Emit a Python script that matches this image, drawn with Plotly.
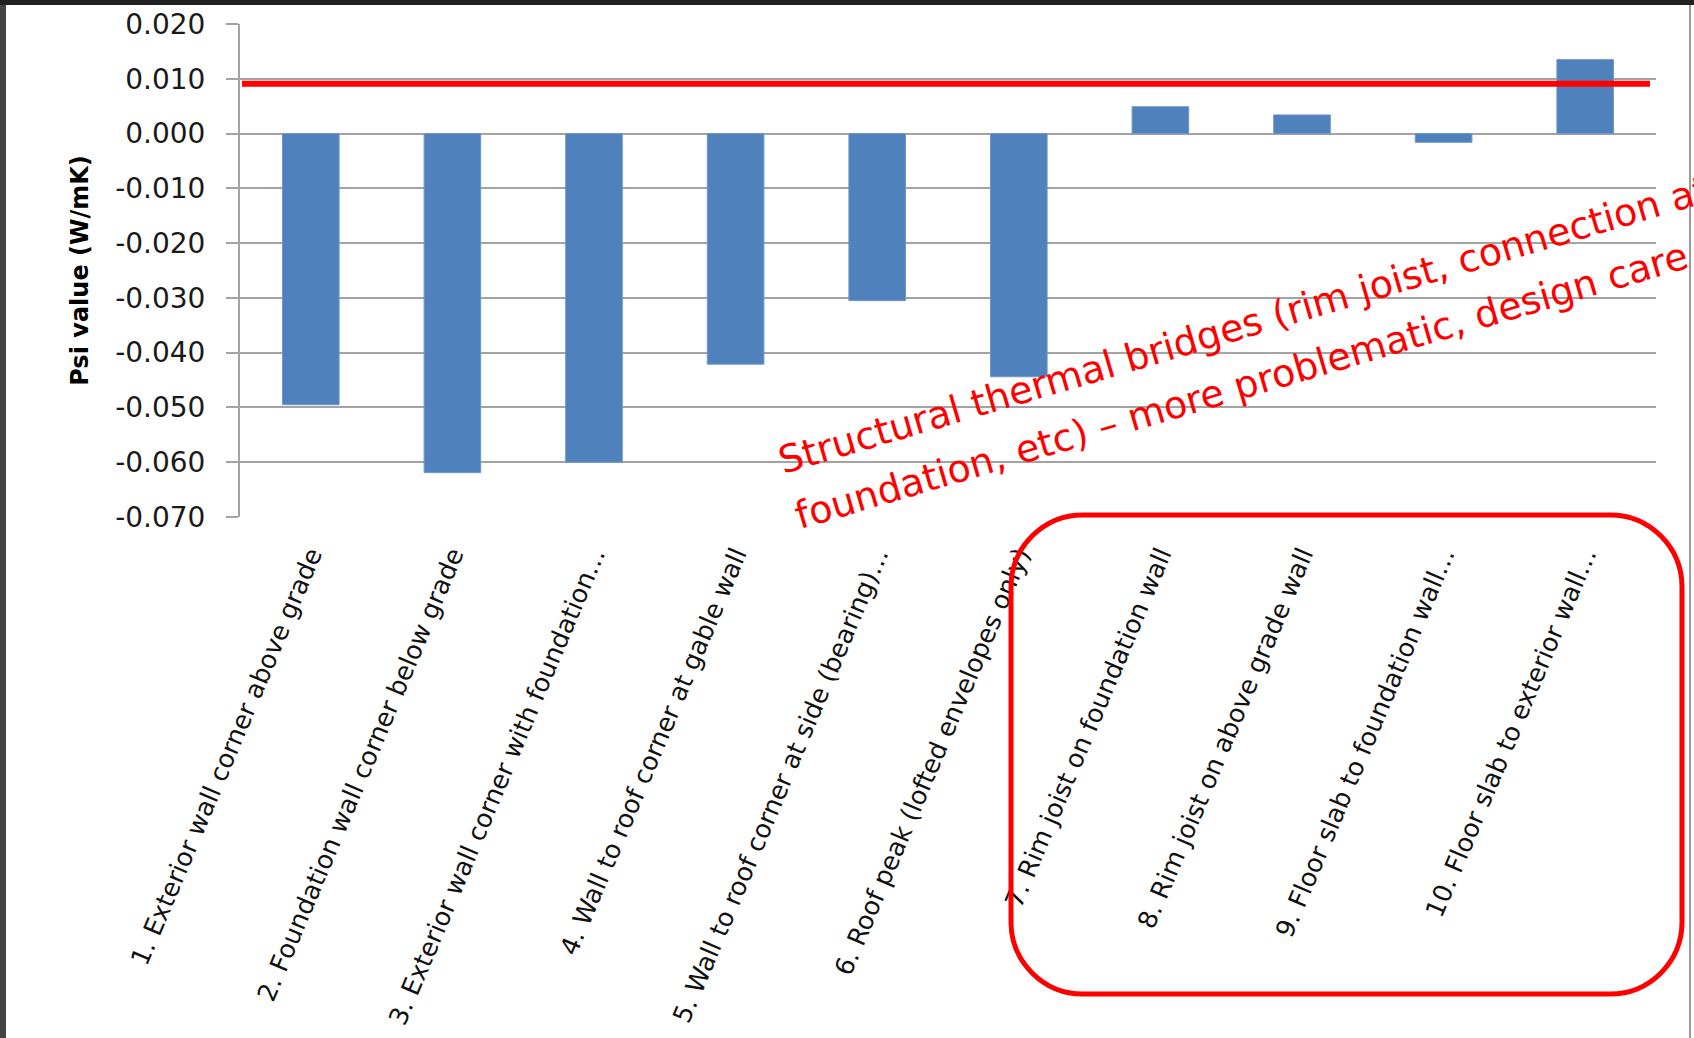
import plotly.graph_objects as go

# ---------------- data ----------------
categories = [
    "1. Exterior wall corner above grade",
    "2. Foundation wall corner below grade",
    "3. Exterior wall corner with foundation…",
    "4. Wall to roof corner at gable wall",
    "5. Wall to roof corner at side (bearing)…",
    "6. Roof peak (lofted envelopes only)",
    "7. Rim joist on foundation wall",
    "8. Rim joist on above grade wall",
    "9. Floor slab to foundation wall…",
    "10. Floor slab to exterior wall…",
]
psi_values = [-0.0495, -0.0619, -0.0600, -0.0421, -0.0305, -0.0444, 0.0049, 0.0034, -0.0016, 0.0135]
threshold_value = 0.0091
y_tick_values = [0.02, 0.01, 0.0, -0.01, -0.02, -0.03, -0.04, -0.05, -0.06, -0.07]
y_tick_labels = ["0.020", "0.010", "0.000", "-0.010", "-0.020", "-0.030", "-0.040", "-0.050", "-0.060", "-0.070"]
y_title = "Psi value (W/mK)"
note_line1 = "Structural thermal bridges (rim joist, connection at"
note_line2 = "foundation, etc) – more problematic, design care needed"

# ---------------- layout geometry (pixels) ----------------
W, H = 1694, 1038
ML, MR, MT, MB = 240, 38, 24, 521
PW = W - ML - MR
PH = H - MT - MB
y_min, y_max = min(y_tick_values), max(y_tick_values)


def px_x(px):
    return (px - ML) / PW


def px_y(py):
    return (H - MB - py) / PH


FONT = "DejaVu Sans"
GRID = "#a3a3a3"
BAR = "#4f81bd"
RED = "#ff0000"

fig = go.Figure()
fig.add_trace(go.Bar(
    x=categories, y=psi_values,
    marker=dict(color=BAR, line=dict(color="#7098c9", width=1)),
    showlegend=False,
))

n = len(categories)
zero_pos = (0 - y_min) / (y_max - y_min)
boundaries = [i - 0.5 for i in range(n + 1)]

# rounded rectangle around structural bridges (pixel geometry -> paper)
bx0, bx1, by0, by1, r = 1011, 1682, 515, 994, 72
k = 0.5523 * r


def P(x, y):
    return f"{px_x(x):.5f},{px_y(y):.5f}"


path = (
    f"M {P(bx0 + r, by0)} L {P(bx1 - r, by0)} "
    f"C {P(bx1 - r + k, by0)} {P(bx1, by0 + r - k)} {P(bx1, by0 + r)} "
    f"L {P(bx1, by1 - r)} "
    f"C {P(bx1, by1 - r + k)} {P(bx1 - r + k, by1)} {P(bx1 - r, by1)} "
    f"L {P(bx0 + r, by1)} "
    f"C {P(bx0 + r - k, by1)} {P(bx0, by1 - r + k)} {P(bx0, by1 - r)} "
    f"L {P(bx0, by0 + r)} "
    f"C {P(bx0, by0 + r - k)} {P(bx0 + r - k, by0)} {P(bx0 + r, by0)} Z"
)

shapes = [
    # threshold line
    dict(type="line", xref="paper", yref="y", x0=px_x(242), x1=px_x(1650),
         y0=threshold_value, y1=threshold_value, line=dict(color=RED, width=6), layer="above"),
    # rounded box
    dict(type="path", xref="paper", yref="paper", path=path,
         line=dict(color=RED, width=5), layer="above"),
    # slide frame
    dict(type="rect", xref="paper", yref="paper", x0=px_x(0), x1=px_x(6), y0=px_y(H), y1=px_y(0),
         fillcolor="#444444", line=dict(width=0), layer="above"),
    dict(type="rect", xref="paper", yref="paper", x0=px_x(0), x1=px_x(W), y0=px_y(5), y1=px_y(0),
         fillcolor="#222222", line=dict(width=0), layer="above"),
    dict(type="line", xref="paper", yref="paper", x0=px_x(1690), x1=px_x(1690), y0=px_y(H), y1=px_y(5),
         line=dict(color="#9a9a9a", width=2), layer="above"),
]

angle = 16.4
annotations = [
    dict(text=note_line1, xref="paper", yref="paper", x=px_x(771), y=px_y(485),
         xanchor="left", yanchor="bottom", textangle=-angle, showarrow=False,
         font=dict(family=FONT, size=38, color=RED)),
    dict(text=note_line2, xref="paper", yref="paper", x=px_x(787), y=px_y(540),
         xanchor="left", yanchor="bottom", textangle=-angle, showarrow=False,
         font=dict(family=FONT, size=38, color=RED)),
]

fig.update_layout(
    width=W, height=H,
    margin=dict(l=ML, r=MR, t=MT, b=MB, autoexpand=False),
    paper_bgcolor="white", plot_bgcolor="white",
    bargap=0.6,
    font=dict(family=FONT, color="#1a1a1a"),
    xaxis=dict(
        type="category", range=[-0.5, n - 0.5], showgrid=False, zeroline=False,
        showline=False, ticks="", tickangle=-67, tickfont=dict(size=25.5, family=FONT, color="#111111"),
        ticklabelstandoff=17, automargin=False,
    ),
    xaxis2=dict(
        overlaying="x", anchor="free", position=zero_pos, side="bottom",
        range=[-0.5, n - 0.5], tickmode="array", tickvals=boundaries,
        showticklabels=False, ticks="outside", ticklen=9, tickwidth=2, tickcolor=GRID,
        showline=True, linecolor=GRID, linewidth=2, showgrid=False, zeroline=False,
    ),
    yaxis=dict(
        range=[y_min, y_max], tickmode="array", tickvals=y_tick_values, ticktext=y_tick_labels,
        showgrid=True, gridcolor=GRID, gridwidth=2, zeroline=False,
        showline=True, linecolor=GRID, linewidth=2,
        ticks="outside", ticklen=12, tickwidth=2, tickcolor=GRID,
        tickfont=dict(size=28, family=FONT, color="#1a1a1a"), ticklabelstandoff=15,
        title=dict(text=y_title, font=dict(size=24, family="DejaVu Sans", weight="bold", color="#000000"),
                   standoff=20),
        automargin=False,
    ),
    shapes=shapes,
    annotations=annotations,
)

fig.write_html("out.html")
